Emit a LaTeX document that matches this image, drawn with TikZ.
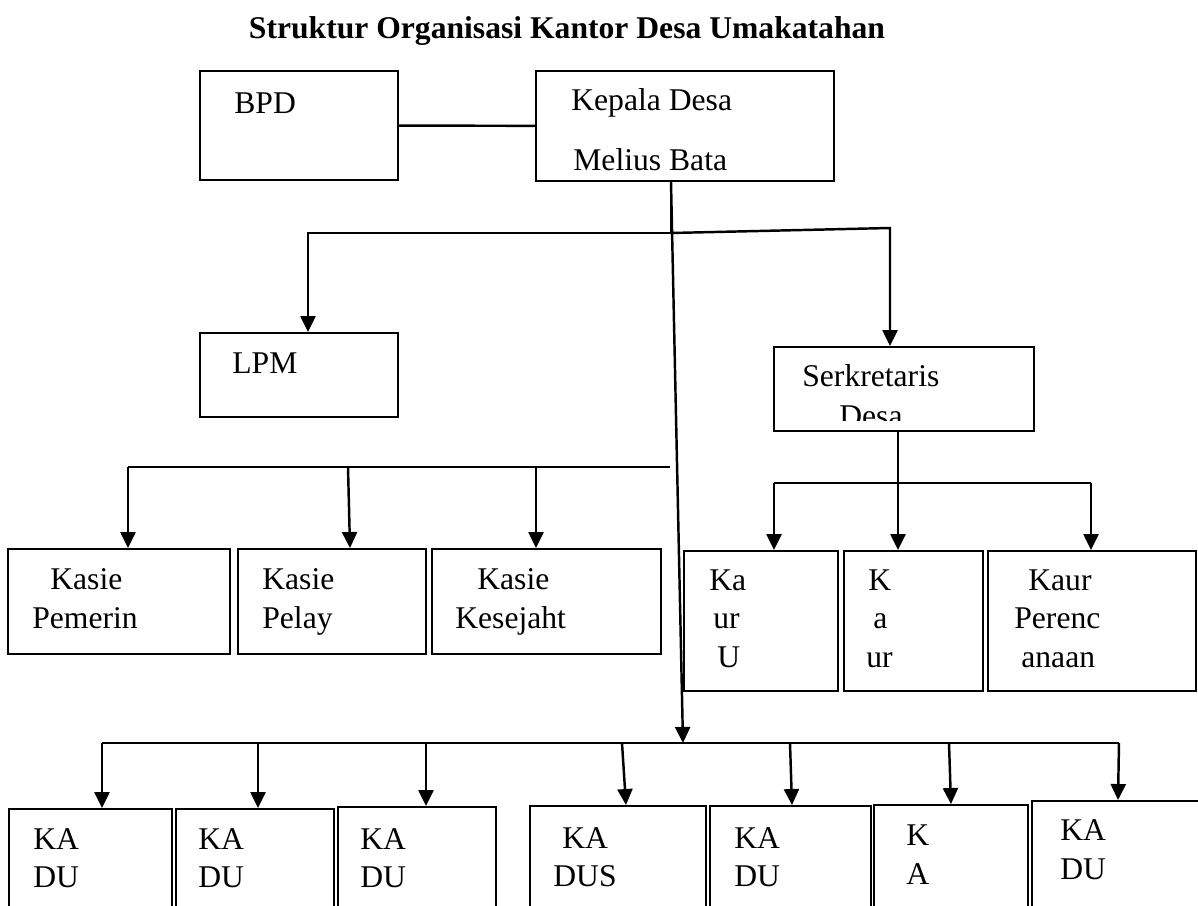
\documentclass[tikz,border=0pt]{standalone}
\usepackage{fontspec}
\setmainfont{Liberation Serif}
\usetikzlibrary{arrows.meta,fit}

\tikzset{
  box/.style={draw, line width=1.1pt, inner sep=0pt},
  txt/.style={anchor=base west, inner sep=0pt, font=\fontsize{18}{21}\selectfont},
  conn/.style={line width=1.4pt},
  arr/.style={line width=1.4pt, -{Triangle[length=3.2mm, width=3mm]}},
}

\begin{document}
\begin{tikzpicture}[x=0.02cm, y=-0.02cm]
\useasboundingbox (0,0) rectangle (1198,906);
\clip (0,0) rectangle (1198,906);

\node[txt, anchor=base, font=\bfseries\fontsize{18}{21}\selectfont] (title) at (567,38) {Struktur Organisasi Kantor Desa Umakatahan};

% top boxes
\node[box, fit={(200,71) (398,180)}] (bpd) {};
\node[box, fit={(536,71) (834,181)}] (kepala) {};
\node[box, fit={(200,333) (398,417)}] (lpm) {};
\node[box, fit={(774,347) (1034,431)}] (serk) {};

\node[txt] (t-bpd) at (234,113) {BPD};
\node[txt] (t-kepala) at (571,111) {Kepala Desa};
\node[txt] (t-nama) at (573,170) {Melius Bata};
\node[txt] (t-lpm) at (232,373) {LPM};
\node[txt] (t-serk) at (802,386) {Serkretaris};
\begin{scope}
  \clip (774,347) rectangle (1034,420);
  \node[txt] (t-desa) at (839,426) {Desa};
\end{scope}

% kasie
\foreach \n/\l/\r in {ks1/8/230, ks2/238/426, ks3/432/661}
  \node[box, fit={(\l,549) (\r,654)}] (\n) {};
\foreach \n/\x/\y/\s in {a1/50/589/Kasie, a2/32/628/Pemerin, a3/262/589/Kasie, a4/262/628/Pelay, a5/477/589/Kasie, a6/455/628/Kesejaht}
  \node[txt] (t-\n) at (\x,\y) {\s};

% kaur
\foreach \n/\l/\r in {kr1/684/838, kr2/844/983, kr3/988/1196}
  \node[box, fit={(\l,551) (\r,691)}] (\n) {};
\foreach \n/\x/\y/\s in {b1/709/590/Ka, b2/713/628/ur, b3/717/667/U, b4/868/590/K, b5/873/628/a, b6/866/667/ur, b7/1028/590/Kaur, b8/1014/628/Perenc, b9/1021/667/anaan}
  \node[txt] (t-\n) at (\x,\y) {\s};

% kadus
\foreach \n/\l/\r/\t in {kd1/9/172/809, kd2/176/334/809, kd3/338/496/807, kd4/530/706/806, kd5/710/871/806, kd6/874/1028/805, kd7/1032/1215/801}
  \node[box, fit={(\l,\t) (\r,960)}] (\n) {};
\foreach \n/\x/\y/\s in {c1/33/849/KA, c2/33/887/DU, c3/198/849/KA, c4/198/887/DU, c5/360/849/KA, c6/360/887/DU, c7/562/848/KA, c8/553/886/DUS, c9/734/848/KA, c10/734/886/DU, c11/906/845/K, c12/906/884/A, c13/1060/840/KA, c14/1060/879/DU}
  \node[txt] (t-\n) at (\x,\y) {\s};

% connectors
\coordinate (top-l) at (308,233);
\coordinate (top-m) at (671,233);
\coordinate (top-r) at (890,228);
\coordinate (kasie-l) at (128,467);
\coordinate (kasie-r) at (670,467);
\coordinate (kaur-l) at (774,483);
\coordinate (kaur-r) at (1091,483);
\coordinate (bar-l) at (102,743);
\coordinate (bar-m) at (683,743);
\coordinate (bar-r) at (1119,743);

\draw[conn] (bpd) -- (kepala);
\draw[conn] (kepala.south -| top-m) -- (top-m);
\draw[arr] (top-m) -- (top-l) -- (top-l |- lpm.north);
\draw[arr] (top-m) -- (top-r) -- (top-r |- serk.north);
\draw[arr] (kepala.south -| top-m) -- (bar-m);

\draw[conn] (kasie-r) -- (kasie-l);
\foreach \n/\a/\b in {ks1/128/128, ks2/348/350, ks3/536/536}
  \draw[arr] (\a,467) -- (\b,0 |- \n.north);

\draw[conn] (kaur-l) -- (kaur-r);
\draw[arr] (898,0 |- serk.south) -- (898,0 |- kr2.north);
\foreach \n/\a in {kr1/774, kr3/1091}
  \draw[arr] (\a,483) -- (\a,0 |- \n.north);

\draw[conn] (bar-l) -- (bar-r);
\foreach \n/\a/\b in {kd1/102/102, kd2/258/258, kd3/426/426, kd4/622/626, kd5/790/792, kd6/949/951, kd7/1119/1118}
  \draw[arr] (\a,743) -- (\b,0 |- \n.north);

\end{tikzpicture}
\end{document}
